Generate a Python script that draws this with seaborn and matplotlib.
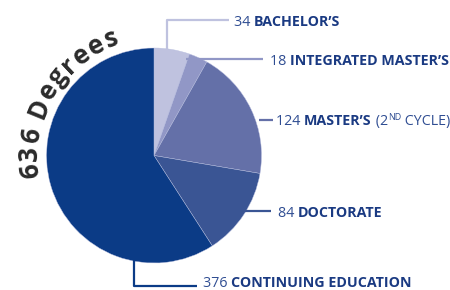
import numpy as np
import matplotlib
matplotlib.use("Agg")
import matplotlib.pyplot as plt
import seaborn as sns

categories = ["BACHELOR\u2019S", "INTEGRATED MASTER\u2019S", "MASTER\u2019S", "DOCTORATE", "CONTINUING EDUCATION"]
values = [34, 18, 124, 84, 376]
title_text = "636 Degrees"
slice_colors = ["#bfc2df", "#9197c6", "#6470a8", "#3a5594", "#0b3b86"]

sns.set_theme(style="white")
plt.rcParams["font.family"] = ["Open Sans", "DejaVu Sans"]

W, H = 450, 290
fig = plt.figure(figsize=(4.5, 2.9), dpi=100)
ax = fig.add_axes([0, 0, 1, 1])

def Y(y):
    return H - y

cx, cy, R = 154, 155.5, 107.5
ax.pie(values, colors=slice_colors, startangle=90, counterclock=False,
       center=(cx, Y(cy)), radius=R,
       wedgeprops=dict(linewidth=0.3, edgecolor="#b8bedf"))
ax.set_xlim(0, W)
ax.set_ylim(0, H)
ax.set_aspect("equal")
ax.set_axis_off()

fig.canvas.draw()
renderer = fig.canvas.get_renderer()

num_color = "#2f4d92"
name_color = "#1a3a82"
FS = 10.3

def draw_pieces(x, y, pieces):
    for txt, weight, size, color, dy in pieces:
        t = ax.text(x, Y(y) + dy, txt, fontsize=size, fontweight=weight, color=color,
                    ha="left", va="baseline")
        bb = t.get_window_extent(renderer)
        x += bb.width

lc = 1.6
# leader lines (annotation layout)
ax.plot([166.7, 166.7, 229], [Y(52), Y(19.5), Y(19.5)], color=slice_colors[0], lw=lc, solid_capstyle="butt")
ax.plot([186, 263], [Y(59.3), Y(59.3)], color=slice_colors[1], lw=lc, solid_capstyle="butt")
ax.plot([259, 272.5], [Y(120), Y(120)], color=slice_colors[2], lw=lc, solid_capstyle="butt")
ax.plot([244, 271], [Y(211), Y(211)], color=slice_colors[3], lw=lc, solid_capstyle="butt")
ax.plot([134.3, 134.3, 197], [Y(260), Y(285.5), Y(285.5)], color=slice_colors[4], lw=lc, solid_capstyle="butt")

draw_pieces(234, 26, [(f"{values[0]} ", "normal", FS, num_color, 0),
                      (categories[0], "bold", FS, name_color, 0)])
draw_pieces(269.5, 65, [(f"{values[1]} ", "normal", FS, num_color, 0),
                        (categories[1], "bold", FS, name_color, 0)])
draw_pieces(276, 125, [(f"{values[2]} ", "normal", FS, num_color, 0),
                       (categories[2], "bold", FS, name_color, 0),
                       (" (2", "normal", FS, num_color, 0),
                       ("ND", "normal", FS * 0.62, num_color, 4.5),
                       (" CYCLE)", "normal", FS, num_color, 0)])
draw_pieces(278, 216.7, [(f"{values[3]} ", "normal", FS, num_color, 0),
                         (categories[3], "bold", FS, name_color, 0)])
draw_pieces(202.7, 287, [(f"{values[4]} ", "normal", FS, num_color, 0),
                         (categories[4], "bold", FS, name_color, 0)])

# curved title along the arc
r_base = 116.5
tfs = 18.5
a_start, a_end = np.deg2rad(190.5), np.deg2rad(107)
widths = []
for ch in title_text:
    t = ax.text(0, 0, ch if ch != " " else "n", fontsize=tfs, fontweight="bold")
    w = t.get_window_extent(renderer).width
    if ch == " ":
        w *= 0.4
    widths.append(w)
    t.remove()
total = (a_start - a_end) * r_base
spacing = (total - sum(widths)) / (len(widths) - 1)
ang = a_start
for ch, w in zip(title_text, widths):
    a_mid = ang - (w / 2) / r_base
    if ch != " ":
        px = cx + r_base * np.cos(a_mid)
        py = Y(cy) + r_base * np.sin(a_mid)
        ax.text(px, py, ch, fontsize=tfs, fontweight="bold", color="#2b2b2b",
                rotation=np.rad2deg(a_mid) - 90, rotation_mode="anchor",
                ha="center", va="baseline")
    ang -= (w + spacing) / r_base

fig.savefig("out.png", dpi=100)
